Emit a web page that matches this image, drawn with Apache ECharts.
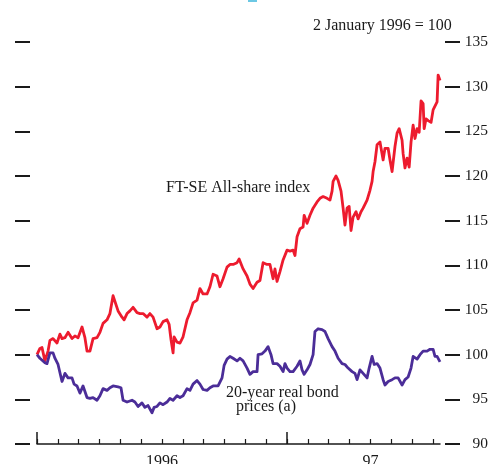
<!DOCTYPE html>
<html>
<head>
<meta charset="utf-8">
<script src="https://cdn.jsdelivr.net/npm/echarts@6/dist/echarts.min.js"></script>
<style>
  html, body { margin: 0; padding: 0; background: #fff; }
  #chart { width: 492px; height: 464px; }
</style>
</head>
<body>
<div id="chart"></div>
<script>
// Months elapsed since 1 January 1996 for each observation
const ftseMonths = [0, 0.14, 0.24, 0.38, 0.53, 0.62, 0.77, 0.96, 1.10, 1.20, 1.34, 1.49, 1.68, 1.82, 1.97, 2.16, 2.30, 2.40, 2.54, 2.69, 2.88, 3.02, 3.17, 3.36, 3.50, 3.65, 3.74, 3.89, 4.08, 4.18, 4.32, 4.46, 4.61, 4.80, 4.94, 5.09, 5.28, 5.42, 5.57, 5.76, 5.90, 6.05, 6.24, 6.34, 6.43, 6.53, 6.58, 6.72, 6.86, 7.01, 7.20, 7.34, 7.49, 7.68, 7.82, 7.97, 8.16, 8.30, 8.45, 8.64, 8.78, 8.93, 9.12, 9.26, 9.41, 9.60, 9.70, 9.89, 10.08, 10.22, 10.37, 10.56, 10.70, 10.85, 11.04, 11.18, 11.33, 11.42, 11.52, 11.66, 11.81, 12.00, 12.14, 12.29, 12.38, 12.48, 12.62, 12.77, 12.82, 12.96, 13.10, 13.25, 13.44, 13.58, 13.73, 13.92, 14.06, 14.16, 14.21, 14.35, 14.45, 14.59, 14.69, 14.78, 14.88, 14.98, 15.07, 15.17, 15.31, 15.41, 15.55, 15.65, 15.84, 15.98, 16.08, 16.13, 16.22, 16.32, 16.46, 16.61, 16.70, 16.85, 16.94, 17.04, 17.18, 17.28, 17.38, 17.52, 17.57, 17.66, 17.76, 17.86, 17.95, 18.05, 18.14, 18.24, 18.34, 18.43, 18.53, 18.58, 18.67, 18.77, 18.91, 19.01, 19.10, 19.20, 19.25, 19.30, 19.34];
// FT-SE All-share index, rebased to 2 January 1996 = 100
const ftseIndex = [100, 100.7, 100.8, 99.3, 100.4, 101.6, 101.8, 101.3, 102.3, 101.8, 101.9, 102.5, 101.8, 102.1, 101.9, 103.1, 101.9, 100.4, 100.4, 101.8, 101.9, 102.5, 103.5, 103.9, 104.6, 106.6, 106.4, 104.9, 104.2, 103.9, 104.6, 104.9, 105.3, 104.7, 104.6, 104.6, 104.2, 104.6, 104.2, 102.9, 103.1, 103.7, 103.9, 103.4, 101.7, 100.2, 102.0, 101.4, 101.3, 102.0, 103.9, 104.7, 105.8, 106.1, 107.4, 106.8, 106.8, 107.6, 109.0, 108.8, 107.6, 108.5, 109.8, 110.1, 110.1, 110.3, 110.7, 109.6, 108.8, 107.9, 107.4, 108.1, 108.3, 110.3, 110.1, 110.1, 108.5, 109.6, 108.2, 109.3, 110.6, 111.7, 111.6, 111.7, 111.1, 113.2, 114.1, 114.3, 115.6, 114.7, 115.6, 116.4, 117.1, 117.5, 117.7, 117.5, 117.3, 118.3, 119.4, 120.0, 119.5, 118.3, 116.4, 114.5, 116.4, 116.6, 113.9, 115.4, 116.0, 115.2, 116.0, 116.4, 117.3, 118.4, 119.4, 120.5, 121.6, 123.5, 123.8, 121.8, 123.1, 123.1, 121.8, 120.5, 123.3, 124.8, 125.3, 124.0, 122.5, 120.9, 122.0, 121.0, 123.8, 125.7, 124.2, 125.3, 124.9, 128.4, 128.1, 125.3, 126.4, 126.2, 126.0, 127.4, 127.2, 128.3, 131.3, 131.1, 130.7];

const bondMonths = [0, 0.14, 0.38, 0.48, 0.62, 0.77, 0.86, 1.01, 1.20, 1.34, 1.49, 1.68, 1.78, 1.92, 2.06, 2.21, 2.40, 2.54, 2.69, 2.88, 3.02, 3.17, 3.36, 3.50, 3.65, 3.89, 4.03, 4.13, 4.32, 4.56, 4.70, 4.85, 5.04, 5.18, 5.33, 5.52, 5.62, 5.76, 5.90, 6.05, 6.24, 6.38, 6.53, 6.72, 6.86, 7.01, 7.20, 7.34, 7.49, 7.68, 7.82, 7.97, 8.16, 8.30, 8.45, 8.69, 8.88, 8.98, 9.12, 9.26, 9.41, 9.60, 9.74, 9.89, 10.08, 10.22, 10.37, 10.56, 10.61, 10.80, 10.94, 11.09, 11.23, 11.33, 11.52, 11.66, 11.81, 11.90, 12.00, 12.14, 12.29, 12.48, 12.62, 12.72, 12.82, 12.96, 13.10, 13.25, 13.34, 13.49, 13.68, 13.82, 13.97, 14.16, 14.30, 14.45, 14.64, 14.78, 14.93, 15.12, 15.26, 15.36, 15.50, 15.65, 15.84, 15.94, 16.08, 16.18, 16.32, 16.46, 16.61, 16.70, 16.85, 17.04, 17.18, 17.33, 17.52, 17.66, 17.81, 17.95, 18.05, 18.24, 18.38, 18.53, 18.72, 18.86, 19.01, 19.10, 19.20, 19.34];
// 20-year real bond prices, rebased to 2 January 1996 = 100
const bondPrices = [100, 99.6, 99.1, 99.0, 100.2, 100.2, 99.6, 98.9, 97.0, 97.9, 97.4, 97.4, 96.7, 96.5, 95.7, 96.5, 95.2, 95.1, 95.2, 94.9, 95.4, 96.2, 96.0, 96.3, 96.5, 96.4, 96.3, 94.9, 94.7, 94.9, 94.7, 94.2, 94.6, 94.1, 94.3, 93.5, 94.1, 94.2, 94.6, 94.4, 94.7, 95.1, 94.9, 95.4, 95.2, 95.4, 96.2, 96.0, 96.7, 97.1, 96.7, 96.1, 96.0, 96.3, 96.5, 96.5, 97.4, 98.8, 99.5, 99.8, 99.6, 99.3, 99.6, 99.3, 98.5, 97.8, 98.1, 98.1, 100.0, 100.1, 100.4, 100.9, 100.0, 99.0, 99.0, 98.7, 98.1, 99.0, 98.5, 98.1, 98.1, 98.7, 99.3, 98.3, 97.8, 98.3, 98.9, 100.0, 102.6, 102.9, 102.8, 102.6, 101.8, 100.9, 100.4, 99.6, 99.0, 98.9, 98.5, 98.1, 97.9, 97.2, 98.3, 97.9, 97.4, 98.5, 99.8, 98.9, 99.0, 98.5, 97.2, 96.6, 97.0, 97.2, 97.4, 97.4, 96.6, 97.2, 97.5, 98.5, 99.8, 99.5, 100.0, 100.4, 100.4, 100.6, 100.6, 99.8, 99.8, 99.2];

// Axis marks
const monthTicks = [0, 1, 2, 3, 4, 5, 6, 7, 8, 9, 10, 11, 12, 13, 14, 15, 16, 17, 18, 19];
const yearTicks = [0, 12];
const yearLabelPos = [6, 16];
const yearLabels = ['1996', '97'];
const lastMonth = 19.34;

const FONT = 'Liberation Serif';
const INK = '#1a1a1a';

const zip = (xs, ys) => xs.map((x, i) => [x, ys[i]]);

const chart = echarts.init(document.getElementById('chart'), null, { renderer: 'canvas' });

function yAxisSpec(position, offset, label) {
  return {
    type: 'value', min: 90, max: 135, interval: 5,
    position: position, offset: offset,
    axisLine: { show: false, onZero: false },
    splitLine: { show: false },
    axisTick: { show: true, inside: false, length: 15, lineStyle: { color: INK, width: 2 } },
    axisLabel: label
  };
}

chart.setOption({
  animation: false,
  backgroundColor: '#fff',
  grid: { left: 37, right: 52, top: 42, bottom: 20, containLabel: false, outerBoundsMode: 'none' },
  xAxis: [
    {
      type: 'value', min: 0, max: lastMonth, position: 'bottom',
      axisLine: { show: true, onZero: false, lineStyle: { color: INK, width: 1.5 } },
      splitLine: { show: false },
      axisTick: { show: true, inside: true, length: 5, customValues: monthTicks, lineStyle: { color: INK, width: 1.2 } },
      axisLabel: {
        show: true, margin: 10, customValues: yearLabelPos,
        formatter: v => yearLabels[yearLabelPos.indexOf(v)] || '',
        fontFamily: FONT, fontSize: 16, color: INK
      }
    },
    {
      type: 'value', min: 0, max: lastMonth, position: 'bottom',
      axisLine: { show: false, onZero: false },
      splitLine: { show: false },
      axisTick: { show: true, inside: true, length: 12, customValues: yearTicks, lineStyle: { color: INK, width: 1.5 } },
      axisLabel: { show: false }
    }
  ],
  yAxis: [
    yAxisSpec('left', 7, { show: false }),
    yAxisSpec('right', 5, { show: true, align: 'right', margin: 43, fontFamily: FONT, fontSize: 15.5, color: INK })
  ],
  series: [
    {
      name: 'FT-SE All-share index', type: 'line', xAxisIndex: 0, yAxisIndex: 1,
      data: zip(ftseMonths, ftseIndex), showSymbol: false, clip: false,
      lineStyle: { color: '#ED1B2E', width: 2.8, join: 'round' }
    },
    {
      name: '20-year real bond prices (a)', type: 'line', xAxisIndex: 0, yAxisIndex: 1,
      data: zip(bondMonths, bondPrices), showSymbol: false, clip: false,
      lineStyle: { color: '#4B2D98', width: 2.8, join: 'round' }
    }
  ],
  graphic: [
    { type: 'rect', shape: { x: 248, y: 0, width: 9, height: 2 }, style: { fill: '#6CC8E4' } },
    { type: 'text', x: 313, y: 26, style: { text: '2 January 1996 = 100', font: '16px "' + FONT + '"', fill: INK, verticalAlign: 'middle' } },
    { type: 'text', x: 166, y: 188, style: { text: 'FT-SE All-share index', font: '16px "' + FONT + '"', fill: INK, verticalAlign: 'middle' } },
    { type: 'text', x: 226, y: 393, style: { text: '20-year real bond', font: '16px "' + FONT + '"', fill: INK, verticalAlign: 'middle' } },
    { type: 'text', x: 236, y: 407, style: { text: 'prices (a)', font: '16px "' + FONT + '"', fill: INK, verticalAlign: 'middle' } }
  ]
});
</script>
</body>
</html>
